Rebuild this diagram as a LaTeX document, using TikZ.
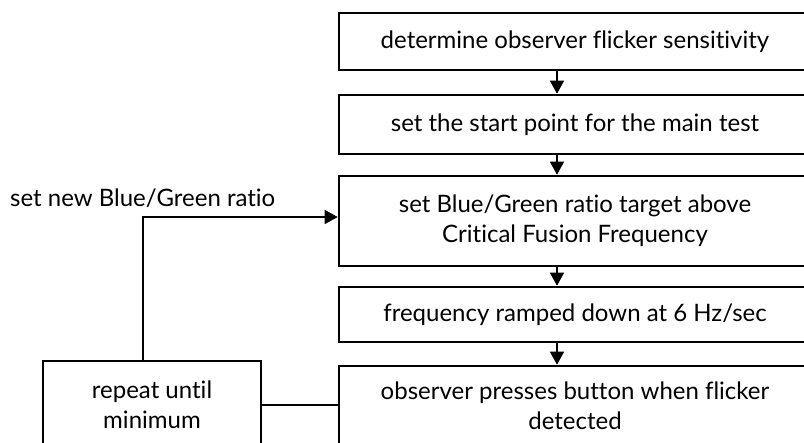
\documentclass[tikz,border=0pt]{standalone}
\usepackage{fontspec}
\setmainfont[Ligatures=NoCommon]{Lato}
\usetikzlibrary{arrows.meta}
\begin{document}
\begin{tikzpicture}[x=1pt,y=-1pt,
  box/.style={draw=black,line width=2.6pt,fill=white,align=center,inner sep=0pt,
    font=\fontsize{24}{30}\selectfont},
  conn/.style={line width=1.3pt},
  arr/.style={conn,-{Triangle[length=13pt,width=14pt]}},
  lbl/.style={font=\fontsize{24}{30}\selectfont,inner sep=0pt}]
\useasboundingbox (0,0) rectangle (804,443);
\clip (0,0) rectangle (804,443);
\node[box,minimum width=472pt,minimum height=57pt] (b1) at (575,41.5) {determine observer flicker sensitivity};
\node[box,minimum width=472pt,minimum height=59pt] (b2) at (575,124.5) {set the start point for the main test};
\node[box,minimum width=472pt,minimum height=90pt] (b3) at (575,221) {set Blue/Green ratio target above\\Critical Fusion Frequency};
\node[box,minimum width=472pt,minimum height=55pt] (b4) at (575,314.5) {frequency ramped down at 6 Hz/sec};
\node[box,minimum width=472pt,minimum height=80pt] (b5) at (575,406) {observer presses button when flicker\\detected};
\node[box,minimum width=218pt,minimum height=88pt] (rep) at (152,405) {repeat until\\minimum};
\node[lbl,anchor=west] (lab) at (10,198) {set new Blue/Green ratio};
\draw[arr] (b1.south -| 557,0) -- (b2.north -| 557,0);
\draw[arr] (b2.south -| 557,0) -- (b3.north -| 557,0);
\draw[arr] (b3.south -| 557,0) -- (b4.north -| 557,0);
\draw[arr] (b4.south -| 557,0) -- (b5.north -| 557,0);
\draw[conn] (rep.east) -- (rep.east -| b5.west);
\draw[arr] ([xshift=-9pt]rep.north) |- ([yshift=4pt]b3.west);
\end{tikzpicture}
\end{document}
